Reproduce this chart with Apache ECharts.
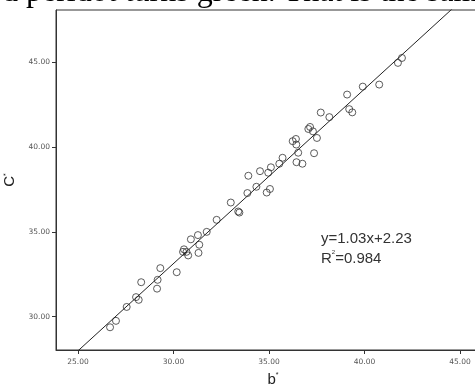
<!DOCTYPE html>
<html>
<head>
<meta charset="utf-8">
<script src="https://cdn.jsdelivr.net/npm/echarts@6/dist/echarts.min.js"></script>
<style>
  html, body { margin: 0; padding: 0; background: #fff; }
  #chart { width: 475px; height: 387px; }
</style>
</head>
<body>
<div id="chart"></div>
<script>
// b* values (x)
var bStar = [26.68, 26.99, 27.55, 28.04, 28.18, 28.31, 29.14, 29.17, 29.31, 30.17,
  30.55, 30.68, 30.77, 30.50, 31.31, 31.35, 30.91, 31.28, 31.74, 32.26,
  33.00, 33.39, 33.45, 33.87, 33.92, 34.34, 34.53, 34.88, 35.05, 34.96,
  35.10, 35.54, 35.71, 36.24, 36.41, 36.43, 36.53, 36.44, 36.75, 37.06,
  37.15, 37.30, 37.51, 37.36, 37.71, 38.16, 39.09, 39.20, 39.36, 39.91,
  40.77, 41.75, 41.96];
// C* values (y)
var cStar = [29.37, 29.75, 30.57, 31.15, 30.99, 32.03, 31.65, 32.17, 32.86, 32.62,
  33.97, 33.82, 33.61, 33.82, 33.76, 34.24, 34.56, 34.81, 35.00, 35.71,
  36.73, 36.20, 36.14, 37.29, 38.31, 37.66, 38.58, 37.32, 37.53, 38.49,
  38.81, 39.02, 39.37, 40.35, 40.48, 40.15, 39.67, 39.11, 39.02, 41.07,
  41.19, 40.93, 40.54, 39.64, 42.04, 41.77, 43.10, 42.24, 42.05, 43.57,
  43.69, 44.97, 45.26];

var xTicks = [25, 30, 35, 40, 45];
var yTicks = [30, 35, 40, 45];

// fit line
var slope = 1.03;
var intercept = 2.23;
var rSquared = 0.984;

var xMin = 23.85, xMax = 46.57;
var yMin = 28.03, yMax = 48.09;

var points = bStar.map(function (b, i) { return [b, cStar[i]]; });
var fitLine = [xMin, xMax].map(function (x) { return [x, slope * x + intercept]; });

var chart = echarts.init(document.getElementById('chart'));

var axisColor = '#333';
var labelStyle = {
  color: '#555',
  fontSize: 7.5,
  fontFamily: 'DejaVu Sans',
  formatter: function (v) { return v.toFixed(2); }
};

chart.setOption({
  animation: false,
  backgroundColor: '#fff',
  grid: {
    left: 56, top: 10, width: 434, height: 340,
    show: true, borderColor: axisColor, borderWidth: 1,
    outerBoundsMode: 'none'
  },
  graphic: [
    {
      // page text cut off above the chart
      type: 'text', x: 2, y: -7, silent: true,
      style: {
        text: 'd peridot turns green. That is the sam',
        fontSize: 32, fontFamily: 'Liberation Serif', fill: '#000',
        verticalAlign: 'middle'
      }
    },
    {
      type: 'text', left: 321, top: 229, silent: true,
      style: {
        text: 'y=' + slope.toFixed(2) + 'x+' + intercept.toFixed(2) + '\n{b|R}{s|2}{b|=' + rSquared.toFixed(3) + '}',
        fontSize: 15, fontFamily: 'Liberation Sans', fill: '#333', lineHeight: 20,
        rich: {
          b: { fontSize: 15, fontFamily: 'Liberation Sans', fill: '#333' },
          s: { fontSize: 6, fontFamily: 'Liberation Sans', fill: '#333', verticalAlign: 'top', padding: [0, 0, 8, 0] }
        }
      }
    }
  ],
  xAxis: {
    type: 'value', min: xMin, max: xMax,
    name: 'b{s|*}', nameLocation: 'middle', nameGap: 22,
    nameTextStyle: {
      fontSize: 15, fontFamily: 'Liberation Sans', color: '#222',
      rich: { s: { fontSize: 7, verticalAlign: 'top', padding: [0, 0, 9, 0], color: '#222' } }
    },
    axisLine: { show: true, lineStyle: { color: axisColor, width: 1 } },
    axisTick: { show: true, length: 4, customValues: xTicks, lineStyle: { color: axisColor } },
    axisLabel: Object.assign({ margin: 8, customValues: xTicks, showMinLabel: true, showMaxLabel: true }, labelStyle),
    splitLine: { show: false }
  },
  yAxis: {
    type: 'value', min: yMin, max: yMax,
    name: 'C{s|*}', nameLocation: 'middle', nameGap: 33,
    nameTextStyle: {
      fontSize: 15, fontFamily: 'Liberation Sans', color: '#222',
      rich: { s: { fontSize: 7, verticalAlign: 'top', padding: [0, 0, 9, 0], color: '#222' } }
    },
    axisLine: { show: true, lineStyle: { color: axisColor, width: 1 } },
    axisTick: { show: true, length: 4, customValues: yTicks, lineStyle: { color: axisColor } },
    axisLabel: Object.assign({ margin: 6, customValues: yTicks }, labelStyle),
    splitLine: { show: false }
  },
  series: [
    {
      type: 'line', data: fitLine, symbol: 'none', clip: true,
      lineStyle: { color: '#222', width: 1 }, silent: true
    },
    {
      type: 'scatter', data: points, symbol: 'circle', symbolSize: 7,
      itemStyle: { color: 'rgba(0,0,0,0)', borderColor: '#333', borderWidth: 1 }
    }
  ]
});
</script>
</body>
</html>
